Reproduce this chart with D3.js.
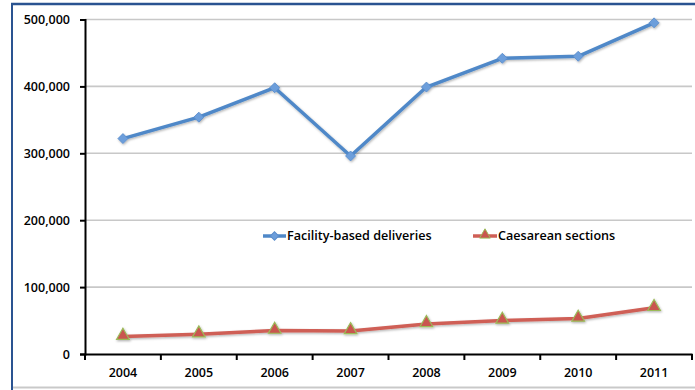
<!DOCTYPE html>
<html><head><meta charset="utf-8">
<script src="https://cdn.jsdelivr.net/npm/d3@7"></script>
<style>
body{margin:0;background:#fff;}
text{font-family:"Open Sans",sans-serif;font-weight:600;fill:#000;}
</style></head>
<body><svg id="c" width="695" height="390"></svg>
<script>
const years = ["2004","2005","2006","2007","2008","2009","2010","2011"];
const facility = [322000,354000,398000,296000,399000,442000,445000,495000];
const caesarean = [26000,29500,35000,34500,45000,50000,53000,69000];
const yTicks = [0,100000,200000,300000,400000,500000];
const seriesNames = ["Facility-based deliveries","Caesarean sections"];

const svg = d3.select("#c");
const W=695,H=390;
const m={left:85,right:692,top:19.5,bottom:354};

// frame
svg.append("rect").attr("x",0).attr("y",0).attr("width",W).attr("height",H).attr("fill","#fff");
svg.append("line").attr("x1",12).attr("x2",W).attr("y1",387.5).attr("y2",387.5).attr("stroke","#c9c9c9").attr("stroke-width",2);
svg.append("line").attr("x1",12).attr("x2",12).attr("y1",4).attr("y2",H).attr("stroke","#2a5391").attr("stroke-width",2);
svg.append("line").attr("x1",11).attr("x2",W).attr("y1",4).attr("y2",4).attr("stroke","#2a5391").attr("stroke-width",2.5);

const x = d3.scaleBand().domain(years).range([m.left,m.right]).padding(0);
const y = d3.scaleLinear().domain([0,500000]).range([m.bottom,m.top]);

// grid
svg.append("g").selectAll("line").data(yTicks.filter(d=>d>0)).join("line")
  .attr("x1",m.left).attr("x2",m.right).attr("y1",d=>y(d)).attr("y2",d=>y(d))
  .attr("stroke","#c8c8c8").attr("stroke-width",1.6);

// y axis
const ya = svg.append("g").attr("transform",`translate(${m.left},0)`)
  .call(d3.axisLeft(y).tickValues(yTicks).tickSize(5).tickPadding(10).tickFormat(d3.format(",")));
ya.select(".domain").attr("stroke","#000").attr("stroke-width",2);
ya.selectAll(".tick line").attr("stroke","#000").attr("stroke-width",2);
ya.selectAll("text").style("font-size","12.5px").attr("fill","#000");

// x axis
const xa = svg.append("g").attr("transform",`translate(0,${m.bottom})`)
  .call(d3.axisBottom(x).tickSize(0).tickPadding(14));
xa.select(".domain").attr("stroke","#000").attr("stroke-width",2.2);
xa.selectAll("text").style("font-size","12.5px").attr("fill","#000");
svg.append("g").selectAll("line").data(years.map(d=>x(d)).concat([m.right])).join("line")
  .attr("x1",d=>d).attr("x2",d=>d).attr("y1",m.bottom).attr("y2",m.bottom+6)
  .attr("stroke","#000").attr("stroke-width",2);

// shadow filter
const defs = svg.append("defs");
const f = defs.append("filter").attr("id","sh").attr("x","-10%").attr("y","-10%").attr("width","120%").attr("height","130%");
f.append("feDropShadow").attr("dx",0.8).attr("dy",1.2).attr("stdDeviation",1).attr("flood-color","#000").attr("flood-opacity",0.3);

const cx = d=>x(d)+x.bandwidth()/2;
const line = d3.line().x((d,i)=>cx(years[i])).y(d=>y(d));
const diamond = d3.symbol(d3.symbolSquare,50);

const gF = svg.append("g").attr("filter","url(#sh)");
gF.append("path").datum(facility).attr("d",line).attr("fill","none").attr("stroke","#4f88c8").attr("stroke-width",3.5).attr("stroke-linejoin","round");
gF.selectAll("path.m").data(facility).join("path").attr("class","m")
  .attr("d",diamond)
  .attr("transform",(d,i)=>`translate(${cx(years[i])},${y(d)}) rotate(45)`)
  .attr("fill","#6c9edb").attr("stroke","#5a8ccb").attr("stroke-width",0.8);

const gC = svg.append("g").attr("filter","url(#sh)");
gC.append("path").datum(caesarean).attr("d",line).attr("fill","none").attr("stroke","#cf5f56").attr("stroke-width",3.5).attr("stroke-linejoin","round");
gC.selectAll("path.m").data(caesarean).join("path").attr("class","m")
  .attr("d",d3.symbol(d3.symbolTriangle,70))
  .attr("transform",(d,i)=>`translate(${cx(years[i])},${y(d)-1})`)
  .attr("fill","#c9564f").attr("stroke","#9bbb59").attr("stroke-width",1.2);

// legend
const ly = 236;
const leg = [{x0:263,x1:286,name:seriesNames[0],c:"#4f88c8",tri:false,fill:"#6c9edb",st:"#5a8ccb"},
             {x0:473,x1:497,name:seriesNames[1],c:"#cf5f56",tri:true,fill:"#c9564f",st:"#9bbb59"}];
const lg = svg.append("g").selectAll("g").data(leg).join("g");
lg.append("line").attr("x1",d=>d.x0).attr("x2",d=>d.x1).attr("y1",ly).attr("y2",ly).attr("stroke",d=>d.c).attr("stroke-width",3.5);
lg.append("path").attr("d",d=>d.tri?d3.symbol(d3.symbolTriangle,50)():d3.symbol(d3.symbolSquare,36)())
  .attr("transform",d=>d.tri?`translate(${(d.x0+d.x1)/2},${ly-1})`:`translate(${(d.x0+d.x1)/2},${ly}) rotate(45)`)
  .attr("fill",d=>d.fill).attr("stroke",d=>d.st).attr("stroke-width",1);
lg.append("text").attr("x",d=>d.x1+1).attr("y",ly).attr("dy","0.35em").style("font-size","12.6px").text(d=>d.name);
</script></body></html>
